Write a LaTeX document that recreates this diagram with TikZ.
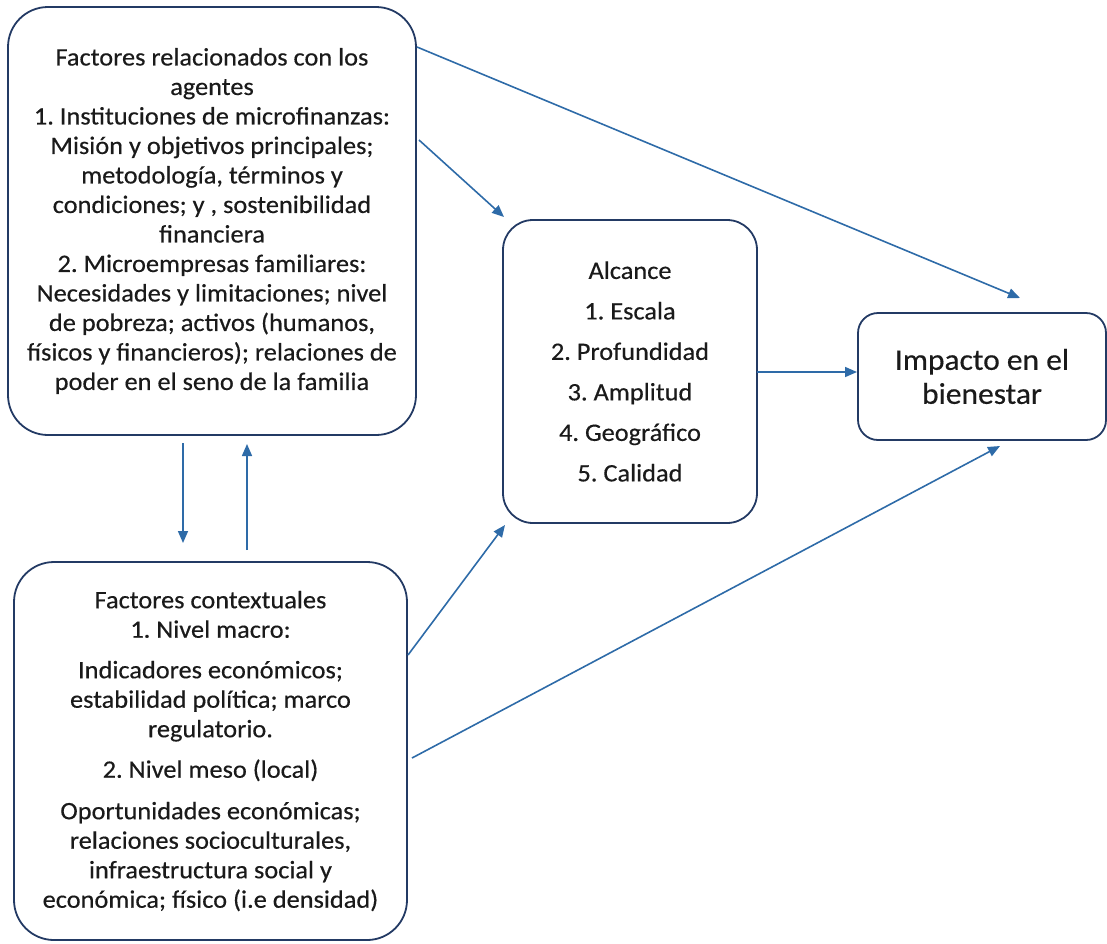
\documentclass[tikz,border=0pt]{standalone}
\usepackage{fontspec}
\setmainfont{Carlito}[FakeStretch=1.05,FakeBold=0.4]
\usetikzlibrary{arrows.meta}
\frenchspacing
\definecolor{boxline}{HTML}{233A64}
\definecolor{arrowblue}{HTML}{2E6BA8}
\definecolor{textgray}{HTML}{1A1A1A}
\tikzset{
  box/.style={draw=boxline, line width=1.8pt, align=center, inner sep=0pt, text=textgray},
  link/.style={draw=arrowblue, line width=1.6pt, -{Triangle[length=12pt,width=10pt]}},
  bodytext/.style={font=\fontsize{25.1}{29.5}\selectfont},
}
\begin{document}
\begin{tikzpicture}[x=1pt,y=-1pt]
\useasboundingbox (0,0) rectangle (1107,943);

% agent-related factors
\node[box, bodytext, rounded corners=40pt, minimum width=408pt, minimum height=428pt] (agentes) at (212,221)
  {Factores relacionados con los\\ agentes\\ 1. Instituciones de microfinanzas:\\ Misión y objetivos principales;\\ metodología, términos y\\ condiciones; y , sostenibilidad\\ financiera\\ 2. Microempresas familiares:\\ Necesidades y limitaciones; nivel\\ de pobreza; activos (humanos,\\ físicos y financieros); relaciones de\\ poder en el seno de la familia};

% contextual factors
\node[box, bodytext, rounded corners=40pt, minimum width=393pt, minimum height=378pt] (contexto) at (210.5,751)
  {Factores contextuales\\ 1. Nivel macro:\\[11pt] Indicadores económicos;\\ estabilidad política; marco\\ regulatorio.\\[11pt] 2. Nivel meso (local)\\[12pt] Oportunidades económicas;\\ relaciones socioculturales,\\ infraestructura social y\\ económica; físico (i.e densidad)};

% outreach
\node[box, font=\fontsize{25.1}{40.5}\selectfont, rounded corners=30pt, minimum width=254pt, minimum height=303pt] (alcance) at (630,371.5)
  {Alcance\\ 1. Escala\\ 2. Profundidad\\ 3. Amplitud\\ 4. Geográfico\\ 5. Calidad};

% welfare impact
\node[box, font=\fontsize{30}{34}\selectfont, rounded corners=20pt, minimum width=248pt, minimum height=127pt] (impacto) at (982,376.5)
  {Impacto en el\\ bienestar};

% connector end points
\coordinate (aD) at (417,47);
\coordinate (dA) at (1020,298);
\coordinate (aC) at (419,140);
\coordinate (cA) at (504,217);
\coordinate (aB) at (183,443);
\coordinate (bA) at (183,543);
\coordinate (bUp) at (247,550);
\coordinate (aUp) at (247,444);
\coordinate (cD) at (757,372);
\coordinate (dC) at (857,372);
\coordinate (bC) at (408,655);
\coordinate (cB) at (505,525);
\coordinate (bD) at (412,758);
\coordinate (dB) at (1000,446);

\draw[link] (aD) -- (dA);
\draw[link] (aC) -- (cA);
\draw[link] (aB) -- (bA);
\draw[link] (bUp) -- (aUp);
\draw[link] (cD) -- (dC);
\draw[link] (bC) -- (cB);
\draw[link] (bD) -- (dB);
\end{tikzpicture}
\end{document}
